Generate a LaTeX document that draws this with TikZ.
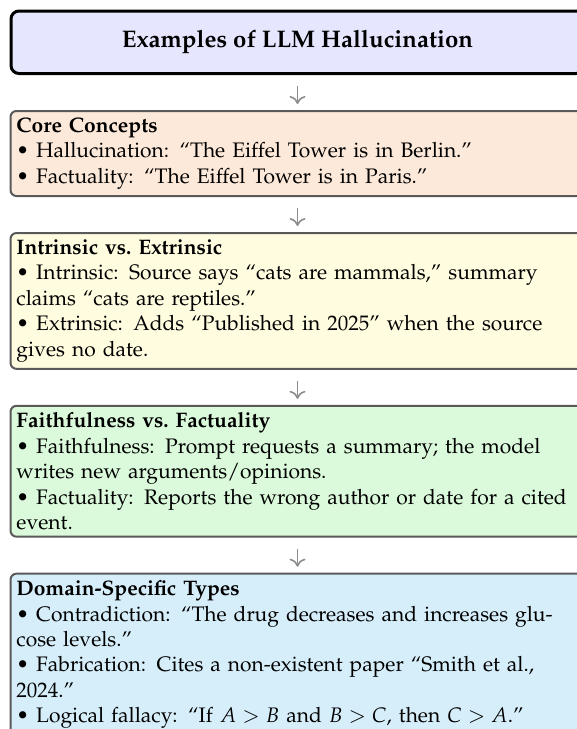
\documentclass[tikz,border=0pt]{standalone}
\usepackage[T1]{fontenc}
\usepackage{mathpazo}
\usetikzlibrary{positioning,arrows.meta}

\definecolor{titlefill}{HTML}{E6E6FF}
\definecolor{corefill}{HTML}{FDE9D9}
\definecolor{intrfill}{HTML}{FFFCE0}
\definecolor{faithfill}{HTML}{DBFADB}
\definecolor{domainfill}{HTML}{D6EEFA}
\definecolor{edgegray}{HTML}{595959}
\definecolor{arrowgray}{HTML}{8C8C8C}

\tikzset{
  titlebox/.style={draw=black, line width=1.5pt, rounded corners=4pt,
    fill=titlefill, minimum width=286.5pt, minimum height=31.25pt,
    font=\fontsize{12pt}{14.5pt}\selectfont\bfseries, align=center, inner sep=3pt},
  infobox/.style={draw=edgegray, line width=1pt, rounded corners=3pt,
    text width=281pt, inner xsep=3pt, inner ysep=3.4pt, align=left,
    font=\fontsize{10.5pt}{12.7pt}\selectfont},
  flow/.style={draw=arrowgray, line width=0.8pt,
    -{To[length=4pt,width=8pt]}, shorten <=5.5pt, shorten >=3pt}
}

\begin{document}
\begin{tikzpicture}
\useasboundingbox (0,0) rectangle (288.5pt,-364.5pt);
\clip (0,0) rectangle (288.5pt,-364.5pt);

\node[titlebox, anchor=north] (title) at (148.75pt,-4.75pt)
  {Examples of LLM Hallucination};

\node[infobox, fill=corefill, below=17.5pt of title] (core)
  {\textbf{Core Concepts}\\
   \textbullet{} Hallucination: ``The Eiffel Tower is in Berlin.''\\
   \textbullet{} Factuality: ``The Eiffel Tower is in Paris.''};

\node[infobox, fill=intrfill, below=17.5pt of core] (intr)
  {\textbf{Intrinsic vs.\ Extrinsic}\\
   \textbullet{} Intrinsic: Source says ``cats are mammals,'' summary claims ``cats are reptiles.''\\
   \textbullet{} Extrinsic: Adds ``Published in 2025'' when the source gives no date.};

\node[infobox, fill=faithfill, below=17.5pt of intr] (faith)
  {\textbf{Faithfulness vs.\ Factuality}\\
   \textbullet{} Faithfulness: Prompt requests a summary; the model writes new arguments/opinions.\\
   \textbullet{} Factuality: Reports the wrong author or date for a cited event.};

\node[infobox, fill=domainfill, below=17.5pt of faith] (domain)
  {\textbf{Domain-Specific Types}\\
   \textbullet{} Contradiction: ``The drug decreases and increases glucose levels.''\\
   \textbullet{} Fabrication: Cites a non-existent paper ``Smith et al., 2024.''\\
   \textbullet{} Logical fallacy: ``If $A > B$ and $B > C$, then $C > A$.''};

\draw[flow] (title) -- (core);
\draw[flow] (core) -- (intr);
\draw[flow] (intr) -- (faith);
\draw[flow] (faith) -- (domain);
\end{tikzpicture}
\end{document}
